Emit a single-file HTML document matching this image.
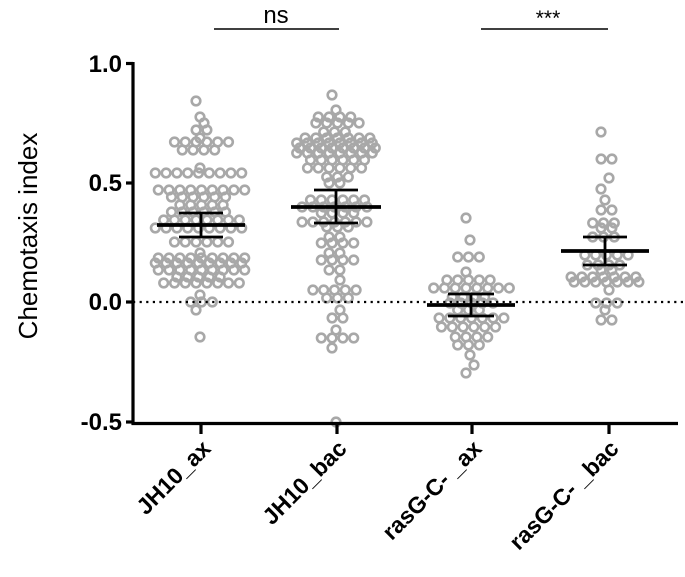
<!DOCTYPE html>
<html><head><meta charset="utf-8"><style>
html,body{margin:0;padding:0;background:#fff;}
svg{display:block;font-family:"Liberation Sans",Arial,sans-serif;}
</style></head><body>
<svg id="s" width="685" height="577" viewBox="0 0 685 577" xmlns="http://www.w3.org/2000/svg">
<g id="pts" fill="none" stroke="#a8a8a8" stroke-width="2.6"></g>
<line x1="133" y1="302" x2="685" y2="302" stroke="#000" stroke-width="2.2" stroke-dasharray="2.2,4.4"/>
<g stroke="#000" stroke-width="3.2">
<line x1="133" y1="62" x2="133" y2="425"/>
<line x1="131.5" y1="423.5" x2="678" y2="423.5"/>
<line x1="126" y1="63.5" x2="133" y2="63.5"/>
<line x1="126" y1="183" x2="133" y2="183"/>
<line x1="126" y1="302" x2="133" y2="302"/>
<line x1="126" y1="422" x2="133" y2="422"/>
<line x1="201" y1="423" x2="201" y2="434"/>
<line x1="337" y1="423" x2="337" y2="434"/>
<line x1="472" y1="423" x2="472" y2="434"/>
<line x1="609" y1="423" x2="609" y2="434"/>
</g>
<g id="err" stroke="#000" fill="none"></g>
<g font-weight="bold" font-size="24" text-anchor="end">
<text x="122" y="72">1.0</text>
<text x="122" y="191">0.5</text>
<text x="122" y="310">0.0</text>
<text x="122" y="430">-0.5</text>
</g>
<text transform="translate(37,236) rotate(-90)" font-size="26" text-anchor="middle">Chemotaxis index</text>
<g font-weight="bold" font-size="23" text-anchor="end">
<text transform="translate(212,450) rotate(-45)">JH10_ax</text>
<text transform="translate(348,450) rotate(-45)">JH10_bac</text>
<text transform="translate(483,450) rotate(-45)">rasG-C- _ax</text>
<text transform="translate(620,450) rotate(-45)">rasG-C- _bac</text>
</g>
<line x1="214" y1="29" x2="339" y2="29" stroke="#000" stroke-width="1.5"/>
<line x1="481" y1="29" x2="608" y2="29" stroke="#000" stroke-width="1.5"/>
<text x="276" y="23" font-size="24" text-anchor="middle">ns</text>
<text x="548" y="25" font-size="21" text-anchor="middle">***</text>
</svg>
<script>
var G=[
 [200,[[101,1],[117,1],[123,1],[130,2],[138,1],[142,6],[150,4],[168,1],[173,9],[190,9],[197,6],[205,5],[212,6],[220,8],[228,9],[242,6],[253,1],[258,9],[263,9],[270,9],[277,5],[283,8],[295,1],[302,3],[310,1],[337,1]]],
 [336,[[95,1],[110,1],[117,4],[123,5],[132,3],[138,7],[143,8],[148,8],[153,8],[160,6],[168,6],[177,3],[183,2],[200,6],[207,7],[213,4],[222,7],[227,3],[237,2],[243,4],[253,2],[260,4],[270,2],[280,1],[290,5],[298,3],[310,1],[318,2],[330,1],[338,4],[348,1],[422,1]]],
 [470,[[218,1],[240,1],[257,3],[272,1],[280,5],[288,8],[297,4],[303,5],[310,3],[318,7],[327,6],[337,4],[345,3],[355,1],[365,1],[373,1]]],
 [605,[[132,1],[159,2],[178,1],[189,1],[200,1],[210,2],[223,3],[228,2],[237,3],[255,5],[265,4],[270,2],[277,7],[282,7],[290,1],[303,3],[310,1],[320,2]]]
];
var ns="http://www.w3.org/2000/svg",g=document.getElementById("pts");
G.forEach(function(gr){var cx=gr[0];gr[1].forEach(function(r,i){var n=r[1];var off=(i%2)?3:-3;if(n==1)off=(i%3-1)*4;
 for(var k=0;k<n;k++){var x=cx+(k-(n-1)/2)*10.8+(n>1?off*0.5:off);var c=document.createElementNS(ns,"circle");
 c.setAttribute("cx",x.toFixed(1));c.setAttribute("cy",r[0]);c.setAttribute("r","4.3");g.appendChild(c);}});});
var E=[[201,225,213,237,44,22],[336,207,190,223,45,22],[471,305,294,316,44,23],[605,251,237,265,44,22]];
var e=document.getElementById("err");
function L(x1,y1,x2,y2,w){var l=document.createElementNS(ns,"line");l.setAttribute("x1",x1);l.setAttribute("y1",y1);l.setAttribute("x2",x2);l.setAttribute("y2",y2);l.setAttribute("stroke-width",w);e.appendChild(l);}
E.forEach(function(a){L(a[0]-a[4],a[1],a[0]+a[4],a[1],3.8);L(a[0]-a[5],a[2],a[0]+a[5],a[2],2.8);L(a[0]-a[5],a[3],a[0]+a[5],a[3],2.8);L(a[0],a[2],a[0],a[3],2.8);});
</script>
</body></html>
